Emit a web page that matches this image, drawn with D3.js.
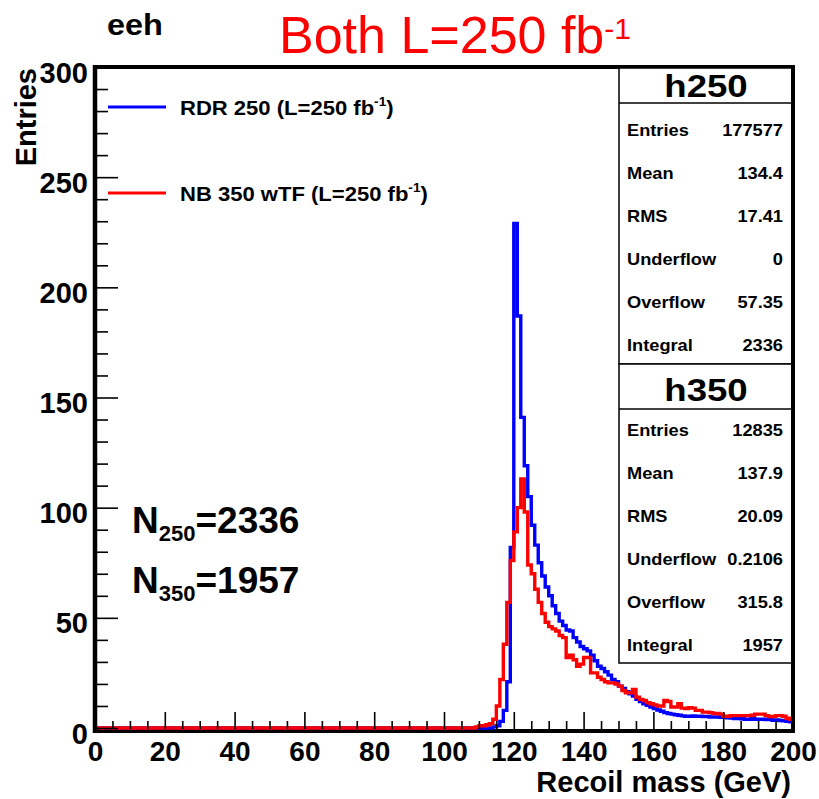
<!DOCTYPE html>
<html>
<head>
<meta charset="utf-8">
<script src="https://cdn.jsdelivr.net/npm/d3@7"></script>
<style>
  html, body { margin: 0; padding: 0; background: #fff; }
  svg { display: block; }
  text { font-family: "Liberation Sans", Arial, Helvetica, sans-serif; }
</style>
</head>
<body>
<svg id="chart" width="819" height="799"></svg>
<script>
// Recoil mass histograms, 1 GeV bins from 0 to 200 GeV
const massRange = [0, 200];
const entriesRange = [0, 300];
const xMajorTicks = [0, 20, 40, 60, 80, 100, 120, 140, 160, 180, 200];
const yMajorTicks = [0, 50, 100, 150, 200, 250, 300];

// RDR 250 (blue), bin contents for bins 0..199
const rdr250 = [
  0,0,0,0,0,0,0,0,0,0,  0,0,0,0,0,0,0,0,0,0,
  0,0,0,0,0,0,0,0,0,0,  0,0,0,0,0,0,0,0,0,0,
  0,0,0,0,0,0,0,0,0,0,  0,0,0,0,0,0,0,0,0,0,
  0,0,0,0,0,0,0,0,0,0,  0,0,0,0,0,0,0,0,0,0,
  0,0,0,0,0,0,0,0,0,0,  0,0,0,0,0,0,0,0,0,0,
  0,0,0,0,0,0,0,0,0,0,                       // 100-109
  0,0,0,0,0.5,1,3,8,21,82,                   // 110-119
  229,187,141,119,105,92,83,75,69,64,        // 120-129
  60,55.5,52,48.5,46.5,44.5,44,41,39,37,     // 130-139
  36,35,33,30.5,28,27,25.5,24,22,21,         // 140-149
  19,18,16.5,15.5,14.5,13,12,11,10.3,9.5,    // 150-159
  8.8,8.2,7.6,7,6.6,6.3,6,5.8,5.5,5.3,       // 160-169
  5.3,5.5,5.3,5.3,5.2,5.2,5,5,5,4.8,         // 170-179
  4.8,4.6,4.5,4.3,4.3,4.2,4,4,4.2,4,         // 180-189
  4,4,3.8,3.8,3.5,3.6,3.4,3.3,3,2.8          // 190-199
];

// NB 350 wTF (red), bin contents for bins 0..199
const nb350 = [
  0,0,0,0,0,0,0,0,0,0,  0,0,0,0,0,0,0,0,0,0,
  0,0,0,0,0,0,0,0,0,0,  0,0,0,0,0,0,0,0,0,0,
  0,0,0,0,0,0,0,0,0,0,  0,0,0,0,0,0,0,0,0,0,
  0,0,0,0,0,0,0,0,0,0,  0,0,0,0,0,0,0,0,0,0,
  0,0,0,0,0,0,0,0,0,0,  0,0,0,0,0,0,0,0,0,0,
  0,0,0,0,0,0,0,0,0,0.5,                     // 100-109
  1,1,1.5,2,4,10,22,38,57,76,                // 110-119
  89,100,113,98,74,70,63,57,52,48,           // 120-129
  46,45,44,42,41,32,33,31,28,29,             // 130-139
  32,32,25,25,23,22,21,20.5,20.5,20,         // 140-149
  19,17,16,16,17.5,14,13,12.5,11.5,11,       // 150-159
  10.5,10,10,12.5,12,9.5,9.5,11,9,8.8,       // 160-169
  9.2,9,8,8,7.2,7.2,7,6.6,6.6,6.3,           // 170-179
  5.3,5.3,5.6,5.6,5.6,5.6,5.6,5.6,5.8,6.3,   // 180-189
  6.3,6.3,5.6,5.2,5.2,5.6,5.6,5.3,4.4,4      // 190-199
];

const statNames = ["Entries", "Mean", "RMS", "Underflow", "Overflow", "Integral"];
const h250Stats = ["177577", "134.4", "17.41", "0", "57.35", "2336"];
const h350Stats = ["12835", "137.9", "20.09", "0.2106", "315.8", "1957"];
const legendLabels = ["RDR 250 (L=250 fb", "NB 350 wTF (L=250 fb"];
const totals = [{ sub: "250", val: "=2336" }, { sub: "350", val: "=1957" }];

const blue = "#0000ff", red = "#ff0000";
const svg = d3.select("#chart");

const frame = { left: 95, right: 793, top: 67, bottom: 731 };
const x = d3.scaleLinear().domain(massRange).range([frame.left, frame.right]);
const y = d3.scaleLinear().domain(entriesRange).range([728, frame.top]);

// ---- histograms (stepped outlines) ----
svg.append("defs").append("clipPath").attr("id", "plotClip")
  .append("rect").attr("x", frame.left).attr("y", frame.top)
  .attr("width", frame.right - frame.left).attr("height", frame.bottom - frame.top + 2);

function stepPoints(values) {
  const w = (massRange[1] - massRange[0]) / values.length;
  const pts = values.map((v, i) => [massRange[0] + i * w, v]);
  pts.push([massRange[1], values[values.length - 1]]);
  return pts;
}
const stepLine = d3.line().x(d => x(d[0])).y(d => y(d[1])).curve(d3.curveStepAfter);

// frame lines
const axisColor = "#000";
svg.append("line").attr("x1", frame.left - 2).attr("x2", frame.right + 2)
  .attr("y1", frame.bottom).attr("y2", frame.bottom)
  .attr("stroke", axisColor).attr("stroke-width", 4);

const hg = svg.append("g").attr("clip-path", "url(#plotClip)");
hg.append("path").attr("d", stepLine(stepPoints(rdr250)))
  .attr("fill", "none").attr("stroke", blue).attr("stroke-width", 3.4);
hg.append("path").attr("d", stepLine(stepPoints(nb350)))
  .attr("fill", "none").attr("stroke", red).attr("stroke-width", 3.4);

svg.append("line").attr("x1", frame.left).attr("x2", frame.left)
  .attr("y1", frame.top - 2).attr("y2", frame.bottom + 2)
  .attr("stroke", axisColor).attr("stroke-width", 4.5);
svg.append("line").attr("x1", frame.left).attr("x2", frame.right)
  .attr("y1", frame.top).attr("y2", frame.top)
  .attr("stroke", axisColor).attr("stroke-width", 4);
svg.append("line").attr("x1", frame.right).attr("x2", frame.right)
  .attr("y1", frame.top - 2).attr("y2", frame.bottom + 2)
  .attr("stroke", axisColor).attr("stroke-width", 4);

// ---- x axis ----
const xMinor = d3.range(massRange[0], massRange[1] + 0.1, 5).filter(v => xMajorTicks.indexOf(v) < 0);
const xMinorAxis = d3.axisBottom(x).tickValues(xMinor).tickSize(-8).tickFormat("");
const xMajorAxis = d3.axisBottom(x).tickValues(xMajorTicks).tickSize(-17).tickPadding(10)
  .tickFormat(d3.format("d"));
const gxm = svg.append("g").attr("transform", `translate(0,${frame.bottom - 2})`).call(xMinorAxis);
const gx = svg.append("g").attr("transform", `translate(0,${frame.bottom - 2})`).call(xMajorAxis);
[gxm, gx].forEach(g => {
  g.select(".domain").remove();
  g.selectAll(".tick line").attr("stroke", "#000").attr("stroke-width", 1.6);
});
gx.selectAll(".tick text").attr("fill", "#000").attr("font-size", 28).attr("font-weight", "bold")
  .attr("y", 12);

// ---- y axis ----
const yMinor = d3.range(entriesRange[0], entriesRange[1] + 0.1, 10).filter(v => yMajorTicks.indexOf(v) < 0);
const yMinorAxis = d3.axisLeft(y).tickValues(yMinor).tickSize(-12).tickFormat("");
const yMajorAxis = d3.axisLeft(y).tickValues(yMajorTicks).tickSize(-22).tickPadding(7)
  .tickFormat(d3.format("d"));
const gym = svg.append("g").attr("transform", `translate(${frame.left + 1},0)`).call(yMinorAxis);
const gy = svg.append("g").attr("transform", `translate(${frame.left + 1},0)`).call(yMajorAxis);
[gym, gy].forEach(g => {
  g.select(".domain").remove();
  g.selectAll(".tick line").attr("stroke", "#000").attr("stroke-width", 1.6);
});
gy.selectAll(".tick text").attr("fill", "#000").attr("font-size", 29).attr("font-weight", "bold")
  .attr("x", -8).attr("dy", "0.52em");

// axis titles
svg.append("text").attr("transform", "translate(36,68) rotate(-90)")
  .attr("text-anchor", "end").attr("font-size", 29).attr("font-weight", "bold").text("Entries");
svg.append("text").attr("x", 791).attr("y", 792).attr("text-anchor", "end")
  .attr("font-size", 29).attr("font-weight", "bold").text("Recoil mass (GeV)");

// ---- headings ----
svg.append("text").attr("transform", "translate(107,35) scale(1.12,1)")
  .attr("font-size", 29).attr("font-weight", "bold").text("eeh");
const title = svg.append("text").attr("x", 279).attr("y", 53).attr("fill", red).attr("font-size", 52);
title.append("tspan").text("Both L=250 fb");
title.append("tspan").attr("font-size", 30).attr("dy", -14).text("-1");

// ---- legend ----
const legendColors = [blue, red];
const legendY = [107, 193];
legendLabels.forEach((lab, i) => {
  svg.append("line").attr("x1", 108).attr("x2", 166).attr("y1", legendY[i]).attr("y2", legendY[i])
    .attr("stroke", legendColors[i]).attr("stroke-width", 3);
  const t = svg.append("text").attr("transform", `translate(180,${legendY[i] + 8}) scale(1.05,1)`)
    .attr("font-size", 21).attr("font-weight", "bold");
  t.append("tspan").text(lab);
  t.append("tspan").attr("font-size", 13).attr("dy", -9).text("-1");
  t.append("tspan").attr("dy", 9).text(")");
});

// ---- totals ----
const totalY = [533, 593];
totals.forEach((d, i) => {
  const t = svg.append("text").attr("x", 132).attr("y", totalY[i])
    .attr("font-size", 37).attr("font-weight", "bold");
  t.append("tspan").text("N");
  t.append("tspan").attr("font-size", 22).attr("dy", 8).text(d.sub);
  t.append("tspan").attr("dy", -8).text(d.val);
});

// ---- statistics boxes ----
function statsBox(name, values, top, sep, bottom, titleBase, firstRow) {
  const left = 619, right = frame.right;
  const g = svg.append("g");
  g.append("rect").attr("x", left).attr("y", top).attr("width", right - left).attr("height", bottom - top)
    .attr("fill", "#fff").attr("stroke", "#000").attr("stroke-width", 1.5);
  g.append("line").attr("x1", left).attr("x2", right).attr("y1", sep).attr("y2", sep)
    .attr("stroke", "#000").attr("stroke-width", 1.5);
  g.append("text").attr("transform", `translate(${(left + right) / 2},${titleBase}) scale(1.18,1)`)
    .attr("text-anchor", "middle").attr("font-size", 31).attr("font-weight", "bold").text(name);
  statNames.forEach((s, i) => {
    const by = firstRow + i * 43;
    g.append("text").attr("transform", `translate(627,${by}) scale(1.14,1)`)
      .attr("font-size", 16).attr("font-weight", "bold").text(s);
    g.append("text").attr("transform", `translate(783,${by}) scale(1.14,1)`)
      .attr("text-anchor", "end").attr("font-size", 16).attr("font-weight", "bold").text(values[i]);
  });
}
statsBox("h250", h250Stats, 68, 103, 364, 97, 136);
statsBox("h350", h350Stats, 364, 409, 663, 401, 436);

// redraw right frame edge over the boxes
svg.append("line").attr("x1", frame.right).attr("x2", frame.right)
  .attr("y1", frame.top - 2).attr("y2", frame.bottom + 2)
  .attr("stroke", axisColor).attr("stroke-width", 4);
</script>
</body>
</html>
